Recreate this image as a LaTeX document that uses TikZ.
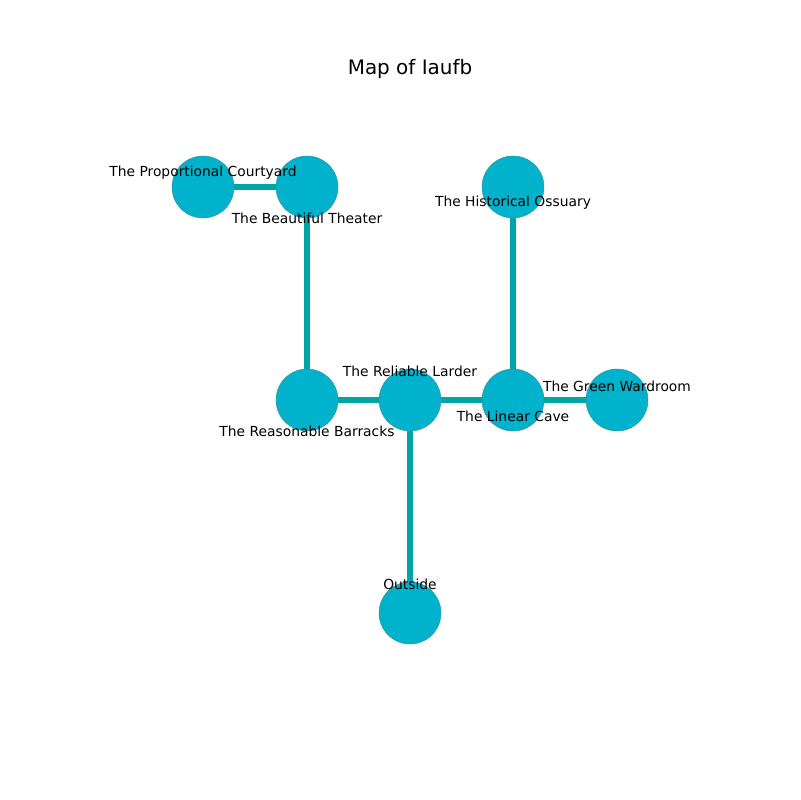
\documentclass[tikz,border=0pt]{standalone}
\usepackage{fontspec}
\setmainfont{DejaVu Sans}
\definecolor{edgecol}{HTML}{00A6A6}
\definecolor{nodecol}{HTML}{00B2CB}
\definecolor{nodeline}{HTML}{3C8C96}
\begin{document}
\begin{tikzpicture}[x=0.01in,y=-0.01in,
  room/.style={circle,fill=nodecol,draw=nodeline,line width=0.3pt,minimum size=0.62in,inner sep=0pt},
  link/.style={draw=edgecol,line width=3.9pt},
  lbl/.style={font=\fontsize{10}{12}\selectfont,inner sep=0pt,anchor=center}]
\useasboundingbox (0,0) rectangle (800,800);
\coordinate (pc) at (203,187);
\coordinate (bt) at (307,187);
\coordinate (ho) at (513,187);
\coordinate (rb) at (307,400);
\coordinate (rl) at (410,400);
\coordinate (lc) at (513,400);
\coordinate (gw) at (617,400);
\coordinate (os) at (410,613);
\draw[link] (pc) -- (bt);
\draw[link] (bt) -- (rb);
\draw[link] (rb) -- (rl);
\draw[link] (rl) -- (lc);
\draw[link] (lc) -- (gw);
\draw[link] (lc) -- (ho);
\draw[link] (rl) -- (os);
\node[room] (npc) at (pc) {};
\node[room] (nbt) at (bt) {};
\node[room] (nho) at (ho) {};
\node[room] (nrb) at (rb) {};
\node[room] (nrl) at (rl) {};
\node[room] (nlc) at (lc) {};
\node[room] (ngw) at (gw) {};
\node[room] (nos) at (os) {};
\node[lbl] (lpc) at (203,173) {The Proportional Courtyard};
\node[lbl] (lbt) at (307,218) {The Beautiful Theater};
\node[lbl] (lho) at (513,203) {The Historical Ossuary};
\node[lbl] (lrl) at (410,371) {The Reliable Larder};
\node[lbl] (lgw) at (617,386) {The Green Wardroom};
\node[lbl] (llc) at (513,416) {The Linear Cave};
\node[lbl] (lrb) at (307,431) {The Reasonable Barracks};
\node[lbl] (los) at (410,584) {Outside};
\node[font=\fontsize{14.4}{17}\selectfont,inner sep=0pt] (title) at (410,69) {Map of Iaufb};
\end{tikzpicture}
\end{document}
